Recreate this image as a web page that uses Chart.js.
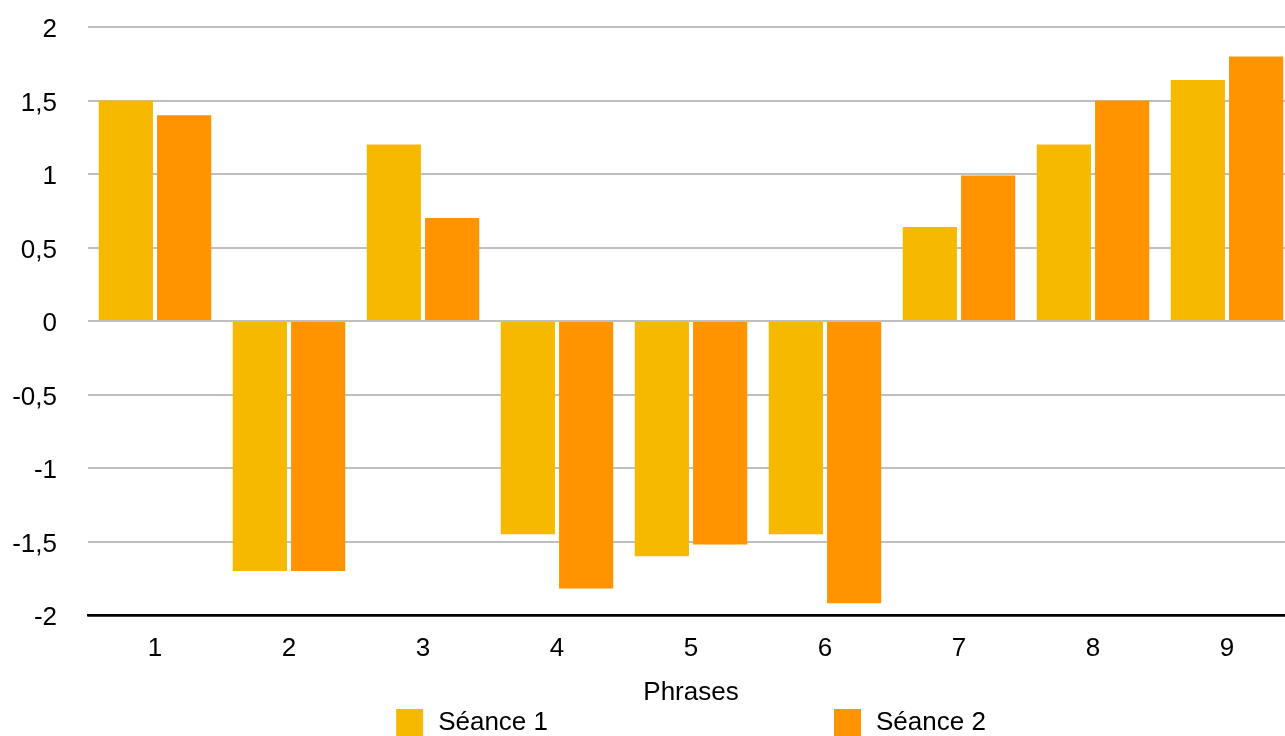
<!DOCTYPE html>
<html>
<head>
<meta charset="utf-8">
<script src="https://cdn.jsdelivr.net/npm/chart.js"></script>
<style>
  html, body { margin: 0; padding: 0; background: #fff; overflow: hidden; }
</style>
</head>
<body>
<canvas id="myChart" width="1294" height="750"></canvas>
<script>
// données
const categories = ['1', '2', '3', '4', '5', '6', '7', '8', '9'];
const seance1 = [1.5, -1.7, 1.2, -1.45, -1.6, -1.45, 0.64, 1.2, 1.64];
const seance2 = [1.4, -1.7, 0.7, -1.82, -1.52, -1.92, 0.99, 1.5, 1.8];
const seriesLabels = ['Séance 1', 'Séance 2'];
const yTicks = [-2, -1.5, -1, -0.5, 0, 0.5, 1, 1.5, 2];

const FONT = '"Liberation Sans", Arial, Helvetica, sans-serif';

// légende dessinée à la main (écart large entre les deux entrées)
const bottomLegend = {
    id: 'bottomLegend',
    afterDraw(chart) {
        const { ctx, chartArea } = chart;
        const box = 27, gapText = 15, gapItems = 286;
        ctx.save();
        ctx.font = '26px ' + FONT;
        ctx.textBaseline = 'middle';
        const items = chart.data.datasets.map((ds) => ({
            label: ds.label,
            color: ds.backgroundColor,
            w: box + gapText + ctx.measureText(ds.label).width,
        }));
        const total = items.reduce((s, it) => s + it.w, 0) + gapItems * (items.length - 1);
        let x = (chartArea.left + chartArea.right) / 2 - total / 2;
        const top = 709;
        items.forEach((it) => {
            ctx.fillStyle = it.color;
            ctx.fillRect(x, top, box, box);
            ctx.fillStyle = '#000';
            ctx.fillText(it.label, x + box + gapText, top + 14);
            x += it.w + gapItems;
        });
        ctx.restore();
    },
};

const ctx = document.getElementById('myChart').getContext('2d');
new Chart(ctx, {
    type: 'bar',
    data: {
        labels: categories,
        datasets: [
            { label: seriesLabels[0], data: seance1, backgroundColor: '#F7B900' },
            { label: seriesLabels[1], data: seance2, backgroundColor: '#FF9400' },
        ],
    },
    options: {
        responsive: false,
        animation: false,
        layout: { padding: { top: 27, left: 0, right: 0, bottom: 42 } },
        datasets: {
            bar: { categoryPercentage: 0.87, barPercentage: 0.93 },
        },
        plugins: {
            legend: { display: false },
            tooltip: { enabled: false },
        },
        scales: {
            x: {
                grid: { display: false, drawTicks: false },
                border: { display: true, color: '#000', width: 2.5 },
                ticks: { color: '#000', font: { family: FONT, size: 26 }, padding: 18 },
                title: {
                    display: true,
                    text: 'Phrases',
                    color: '#000',
                    font: { family: FONT, size: 26 },
                    padding: { top: 4, bottom: 0 },
                },
                afterFit: (scale) => { scale.height = 93; },
            },
            y: {
                min: -2,
                max: 2,
                afterBuildTicks: (scale) => { scale.ticks = yTicks.map((v) => ({ value: v })); },
                grid: {
                    drawTicks: false,
                    lineWidth: (c) => (c.tick && c.tick.value === -2 ? 2.5 : 2),
                    color: (c) => (c.tick && c.tick.value === -2 ? '#000' : '#BFBFBF'),
                },
                border: { display: false },
                ticks: {
                    color: '#000',
                    font: { family: FONT, size: 26 },
                    padding: 31,
                    labelOffset: 3,
                    callback: (v) => String(v).replace('.', ','),
                },
                afterFit: (scale) => {
                    scale.width = 88;
                    // le padding des ticks ne doit pas repousser le haut du graphique
                    scale.paddingTop = 0;
                    scale.paddingBottom = 0;
                },
            },
        },
    },
    plugins: [bottomLegend],
});
</script>
</body>
</html>
